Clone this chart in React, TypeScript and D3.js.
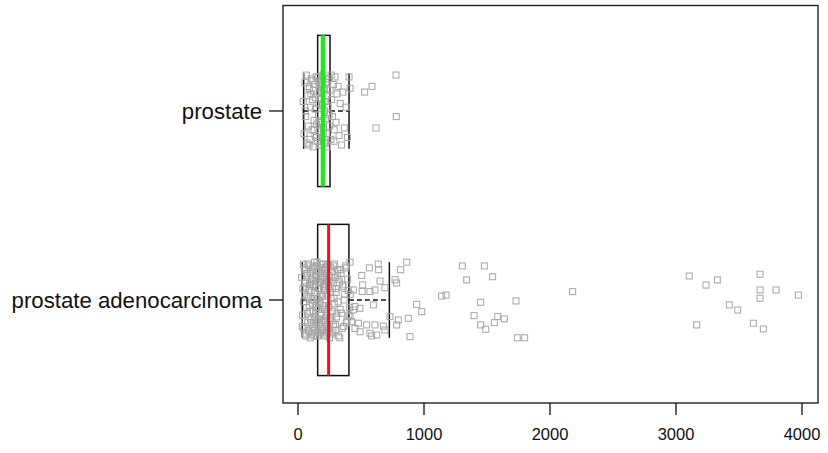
import React from "react";
import * as d3 from "d3";

// ---- data ----
const categories = ["prostate adenocarcinoma", "prostate"];
const medianColors = ["#e8141c", "#22e61e"];

// box statistics: [whiskerLow, q1, median, q3, whiskerHigh]
const adenoStats = [34, 156, 243, 404, 725];
const prostateStats = [45, 156, 198, 254, 405];

const prostateValues = [
  42, 48, 55, 61, 66, 72, 78, 84, 90, 95, 100, 106, 111, 116, 120, 124, 128, 132, 136, 140,
  144, 148, 152, 156, 160, 163, 167, 170, 174, 177, 181, 184, 188, 191, 195, 198, 202, 205, 209, 213,
  217, 221, 225, 229, 234, 239, 244, 249, 255, 261, 267, 274, 281, 288, 294, 302, 310, 318, 326, 335,
  345, 356, 368, 381, 392, 405, 413, 529, 587, 619, 778, 780,
  58, 75, 88, 102, 118, 126, 138, 147, 158, 165, 172, 186, 193, 200, 211, 219, 232, 247, 263, 285,
];
const prostateJitter = [
  0.05, -0.12, 0.15, -0.03, 0.19, -0.17, 0.08, -0.08, 0.12, -0.15, 0.02, 0.17, -0.1, 0.06, -0.19, 0.11, -0.05, 0.14, -0.13, 0.01,
  0.18, -0.07, 0.09, -0.16, 0.04, -0.02, 0.13, -0.11, 0.16, -0.18, 0.07, -0.06, 0.1, -0.14, 0.03, 0.19, -0.09, 0.12, -0.17, 0.05,
  -0.04, 0.15, -0.12, 0.08, -0.19, 0.02, 0.17, -0.08, 0.11, -0.15, 0.06, -0.03, 0.14, -0.1, 0.18, -0.06, 0.09, 0.13, -0.13, 0.04,
  -0.18, 0.1, -0.09, 0.02, -0.14, 0.18, 0.12, 0.1, 0.13, -0.09, 0.19, -0.03,
  0.0, 0.13, -0.18, 0.09, 0.16, -0.1, 0.07, -0.14, 0.18, -0.06, 0.1, -0.16, 0.14, -0.12, 0.0, -0.17, 0.12, -0.02, 0.19, -0.16,
];

const adenoValues = [
  30, 36, 42, 47, 52, 57, 61, 65, 69, 73, 77, 81, 85, 88, 92, 95, 99, 102, 106, 109,
  112, 115, 118, 121, 124, 127, 130, 133, 136, 139, 142, 145, 148, 151, 154, 157, 160, 163, 166, 169,
  172, 175, 178, 181, 184, 187, 190, 193, 196, 199, 202, 205, 208, 211, 214, 217, 220, 223, 226, 229,
  232, 235, 238, 241, 244, 247, 250, 254, 258, 262, 266, 270, 274, 278, 283, 288, 293, 298, 303, 309,
  315, 321, 328, 335, 342, 350, 358, 366, 375, 384, 394, 404, 415,
  33, 39, 45, 50, 55, 59, 63, 67, 71, 75, 79, 83, 87, 90, 94, 97, 100, 104, 107, 111,
  114, 117, 120, 123, 126, 129, 132, 135, 138, 141, 144, 147, 150, 153, 156, 159, 162, 165, 168, 171,
  174, 177, 180, 183, 186, 189, 192, 195, 198, 201, 204, 207, 210, 213, 216, 219, 222, 225, 228, 231,
  234, 237, 240, 243, 246, 249, 252, 256, 260, 264, 268, 272, 276, 281, 286, 291, 296, 301, 306, 312,
  318, 325, 332, 339, 346, 354, 362, 371, 380, 389, 399, 410,
  413, 566, 637, 640, 506, 651, 690, 513, 571, 611, 509, 863, 815, 770, 783, 942, 982, 452, 492, 598,
  439, 479, 545, 611, 677, 730, 796, 783, 875, 889, 571, 625, 585, 690, 492, 452, 426, 413, 439,
  1304, 1479, 1339, 1545, 1140, 1175, 1450, 1730, 1397, 1585, 1637, 1450, 1490, 1558, 1740, 1799, 2180,
  3105, 3238, 3328, 3667, 3667, 3667, 3794, 3971, 3423, 3490, 3164, 3614, 3693,
];
const adenoJitter = [
  0.12, -0.08, 0.19, -0.15, 0.03, 0.16, -0.19, 0.07, -0.04, 0.14, -0.12, 0.01, 0.18, -0.17, 0.09, -0.06, 0.15, -0.1, 0.05, -0.18,
  0.11, -0.02, 0.17, -0.14, 0.08, -0.09, 0.2, -0.16, 0.04, -0.07, 0.13, -0.11, 0.0, 0.18, -0.19, 0.1, -0.05, 0.15, -0.13, 0.06,
  -0.01, 0.19, -0.17, 0.09, -0.08, 0.14, -0.12, 0.02, 0.16, -0.15, 0.07, -0.03, 0.12, -0.18, 0.05, -0.1, 0.17, -0.06, 0.11, -0.14,
  0.03, 0.19, -0.16, 0.08, -0.04, 0.13, -0.2, 0.1, -0.09, 0.01, 0.15, -0.11, 0.06, -0.17, 0.18, -0.02, 0.12, -0.13, 0.04, -0.07,
  0.16, -0.19, 0.09, -0.05, 0.14, -0.15, 0.07, 0.0, 0.17, -0.12, 0.11, -0.08, 0.03,
  -0.14, 0.06, -0.01, 0.17, -0.11, 0.09, -0.18, 0.13, 0.02, -0.07, 0.19, -0.16, 0.05, -0.03, 0.14, -0.2, 0.08, 0.11, -0.12, 0.0,
  -0.15, 0.16, -0.06, 0.1, -0.19, 0.04, 0.18, -0.09, 0.07, -0.13, 0.12, -0.04, 0.2, -0.17, 0.01, 0.15, -0.1, 0.06, -0.18, 0.09,
  -0.02, 0.13, -0.14, 0.17, -0.07, 0.03, -0.16, 0.11, 0.19, -0.11, 0.05, -0.19, 0.08, -0.05, 0.16, -0.12, 0.02, 0.14, -0.08, -0.17,
  0.1, 0.18, -0.03, 0.07, -0.15, 0.12, -0.1, 0.04, 0.17, -0.18, 0.09, -0.06, 0.15, -0.13, 0.01, 0.19, -0.16, 0.06, -0.09, 0.13,
  -0.01, 0.11, -0.2, 0.16, -0.07, 0.08, -0.14, 0.03, 0.18, -0.11, 0.05, -0.04,
  0.2, 0.17, 0.19, 0.16, 0.13, 0.1, 0.065, 0.08, 0.045, 0.053, 0.045, 0.2, 0.16, 0.107, 0.09, -0.023, -0.062, -0.035, -0.044, -0.026,
  -0.053, -0.123, -0.132, -0.132, -0.138, -0.088, -0.106, -0.132, -0.097, -0.194, -0.176, -0.185, -0.19, -0.159, -0.168, -0.15, -0.115, -0.088, 0.053,
  0.18, 0.18, 0.106, 0.123, 0.021, 0.026, -0.012, -0.005, -0.083, -0.088, -0.1, -0.132, -0.155, -0.12, -0.2, -0.2, 0.044,
  0.127, 0.079, 0.106, 0.136, 0.053, 0.009, 0.053, 0.026, -0.026, -0.053, -0.132, -0.123, -0.153,
];

const xTicks = [0, 1000, 2000, 3000, 4000];

// ---- layout ----
const W = 828;
const H = 453;
const frame = { left: 283, right: 818, top: 5.5, bottom: 403 };

export default function App() {
  const x = d3.scaleLinear().domain([0, 4000]).range([298, 802]);
  const y = d3.scaleLinear().domain([0.455, 2.558]).range([frame.bottom, frame.top]);

  const groups = [
    { pos: 1, stats: adenoStats, values: adenoValues, jitter: adenoJitter, color: medianColors[0], label: categories[0] },
    { pos: 2, stats: prostateStats, values: prostateValues, jitter: prostateJitter, color: medianColors[1], label: categories[1] },
  ];
  const boxHalf = 0.4;
  const stapleHalf = 0.2;
  const side = 6;

  return (
    <svg
      width={W}
      height={H}
      style={{ position: "absolute", left: 0, top: 0, background: "#fff" }}
      fontFamily="'Liberation Sans', Arial, sans-serif"
    >
      <rect x={0} y={0} width={W} height={H} fill="#fff" />
      {groups.map((g) => {
        const [wl, q1, med, q3, wh] = g.stats;
        const cy = y(g.pos);
        return (
          <g key={g.label}>
            {/* box */}
            <rect
              x={x(q1)}
              y={y(g.pos + boxHalf)}
              width={x(q3) - x(q1)}
              height={y(g.pos - boxHalf) - y(g.pos + boxHalf)}
              fill="none"
              stroke="#111"
              strokeWidth={1.5}
            />
            {/* whiskers */}
            <line x1={x(wl)} x2={x(q1)} y1={cy} y2={cy} stroke="#111" strokeWidth={1.5} strokeDasharray="5,3" />
            <line x1={x(q3)} x2={x(wh)} y1={cy} y2={cy} stroke="#111" strokeWidth={1.5} strokeDasharray="5,3" />
            <line x1={x(wl)} x2={x(wl)} y1={y(g.pos + stapleHalf)} y2={y(g.pos - stapleHalf)} stroke="#111" strokeWidth={1.5} />
            <line x1={x(wh)} x2={x(wh)} y1={y(g.pos + stapleHalf)} y2={y(g.pos - stapleHalf)} stroke="#111" strokeWidth={1.5} />
            {/* points */}
            {g.values.map((v, i) => (
              <rect
                key={i}
                x={x(v) - side / 2}
                y={y(g.pos + (g.jitter[i] ?? 0)) - side / 2}
                width={side}
                height={side}
                fill="none"
                stroke="#a6a6a6"
                strokeWidth={1}
              />
            ))}
            {/* median */}
            <line
              x1={x(med)}
              x2={x(med)}
              y1={y(g.pos + boxHalf)}
              y2={y(g.pos - boxHalf)}
              stroke={g.color}
              strokeWidth={g.pos === 2 ? 4.5 : 3}
            />
            {/* y tick + label */}
            <line x1={frame.left - 14} x2={frame.left} y1={cy} y2={cy} stroke="#111" strokeWidth={1.3} />
            <text x={frame.left - 21} y={cy} dy="0.35em" textAnchor="end" fontSize={22.2} fill="#111">
              {g.label}
            </text>
          </g>
        );
      })}
      {/* frame */}
      <rect
        x={frame.left}
        y={frame.top}
        width={frame.right - frame.left}
        height={frame.bottom - frame.top}
        fill="none"
        stroke="#222"
        strokeWidth={1.4}
      />
      {/* x axis */}
      {xTicks.map((t) => (
        <g key={t}>
          <line x1={x(t)} x2={x(t)} y1={frame.bottom} y2={frame.bottom + 12} stroke="#111" strokeWidth={1.3} />
          <text x={x(t)} y={440} textAnchor="middle" fontSize={16.5} fill="#111">
            {t}
          </text>
        </g>
      ))}
    </svg>
  );
}
